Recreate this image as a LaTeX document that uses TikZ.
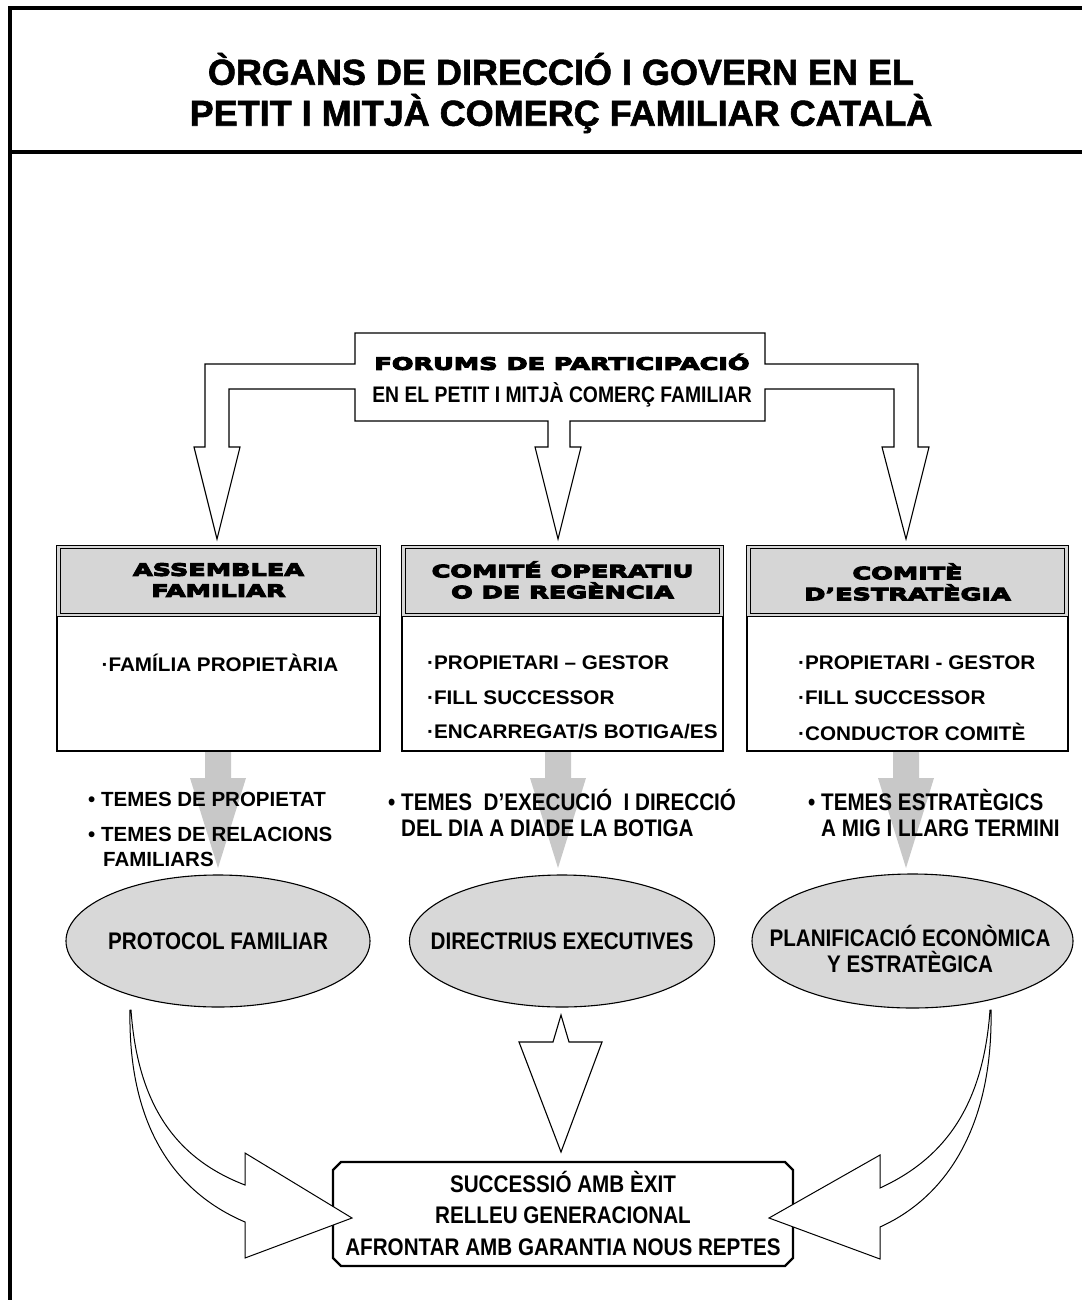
\documentclass[tikz,border=0pt]{standalone}
\usepackage{fontspec}
\usepackage{graphicx}
\setmainfont{Liberation Sans}
\newfontfamily\hdfont[FakeStretch=1.5]{DejaVu Sans}
\newfontfamily\nrfont[FakeStretch=0.86]{Liberation Sans}
\newfontfamily\bdfont[FakeStretch=1.05]{Liberation Sans}
\newcommand\heavytxt[2]{\special{pdf:literal direct 2 Tr #1 w}#2\special{pdf:literal direct 0 Tr 0.4 w}}
\usetikzlibrary{shapes.geometric}
\definecolor{headgrey}{RGB}{214,214,214}
\definecolor{arrgrey}{RGB}{200,200,200}
\definecolor{ellgrey}{RGB}{216,216,216}
\tikzset{
  frameline/.style={line width=4pt},
  outl/.style={draw=black, line width=1.3pt, fill=white},
  titletxt/.style={font=\fontsize{36}{41}\selectfont\bfseries, align=center, inner sep=0pt},
  hdtxt/.style={font=\hdfont\fontsize{17}{21}\selectfont\bfseries, align=center, inner sep=0pt},
  headbox/.style={draw=black, line width=1.1pt, double=headgrey, double distance=2.2pt, fill=headgrey, minimum width=#1, minimum height=68pt, inner sep=0pt},
  bodybox/.style={draw=black, line width=1.3pt, fill=white, minimum width=#1, minimum height=136pt, inner sep=0pt},
  itemtxt/.style={font=\bdfont\fontsize{19.7}{22}\selectfont\bfseries, inner sep=0pt},
  widebul/.style={font=\fontsize{20.5}{26}\selectfont\bfseries, inner sep=0pt, align=left},
  bultxt/.style={font=\nrfont\fontsize{24}{28}\selectfont\bfseries, inner sep=0pt, align=left},
  elltxt/.style={font=\nrfont\fontsize{24}{26}\selectfont\bfseries, align=center, inner sep=0pt},
  ell/.style={ellipse, draw=black, line width=1.1pt, fill=ellgrey, minimum width=#1, inner sep=0pt},
  greyarr/.style={fill=arrgrey},
  finaltxt/.style={font=\nrfont\fontsize{24}{31.5}\selectfont\bfseries, align=center, inner sep=0pt},
}
\begin{document}
\begin{tikzpicture}[x=1pt,y=-1pt]
\useasboundingbox (0,0) rectangle (1082,1300);
% frame
\draw[frameline] (10,1300) -- (10,8) -- (1082,8);
\draw[frameline] (10,152) -- (1082,152);
\node[titletxt] (title) at (561,93) {\heavytxt{0.6}{ÒRGANS DE DIRECCIÓ I GOVERN EN EL}\\\heavytxt{0.6}{PETIT I MITJÀ COMERÇ FAMILIAR CATALÀ}};

% forum shape with three arrows
\draw[outl, line width=1.1pt] (355,333) -- (765,333) -- (765,364) -- (918,364) -- (918,447) -- (929,447)
  -- (906,539) -- (882,447) -- (894,447) -- (894,389) -- (765,389) -- (765,421)
  -- (570,421) -- (570,447) -- (581,447) -- (558,539) -- (535,447) -- (548,447) -- (548,421)
  -- (355,421) -- (355,389) -- (229,389) -- (229,447) -- (240,447) -- (217,539) -- (194,447)
  -- (205,447) -- (205,364) -- (355,364) -- cycle;
\node[hdtxt] (forum) at (562,362) {\heavytxt{1.1}{FORUMS DE PARTICIPACIÓ}};
\node[bultxt, font=\nrfont\fontsize{22.5}{26}\selectfont\bfseries] (forumsub) at (562,395) {EN EL PETIT I MITJÀ COMERÇ FAMILIAR};

% grey arrows from boxes to ellipses
\foreach \cx in {218,558,906}{
  \fill[greyarr] (\cx-13,750) -- (\cx+13,750) -- (\cx+13,778) -- (\cx+28,778) -- (\cx,868) -- (\cx-28,778) -- (\cx-13,778) -- cycle;
}

% boxes
\node[bodybox=323pt] (lbody) at (218.5,683) {};
\node[headbox=320pt] (lhead) at (218.5,581) {};
\node[hdtxt] (lheadt) at (218.5,580) {\heavytxt{1.1}{ASSEMBLEA}\\\heavytxt{1.1}{FAMILIAR}};
\node[itemtxt] (litem) at (220,663) {·FAMÍLIA PROPIETÀRIA};

\node[bodybox=321pt] (mbody) at (562.5,683) {};
\node[headbox=318pt] (mhead) at (562.5,581) {};
\node[hdtxt] (mheadt) at (562.5,580) {\heavytxt{1.1}{COMITÉ OPERATIU}\\\heavytxt{1.1}{O DE REGÈNCIA}};
\node[itemtxt, anchor=west] (mitem1) at (427,663) {·PROPIETARI – GESTOR};
\node[itemtxt, anchor=west] (mitem2) at (427,698) {·FILL SUCCESSOR};
\node[itemtxt, anchor=west] (mitem3) at (427,732) {·ENCARREGAT/S BOTIGA/ES};

\node[bodybox=321pt] (rbody) at (907.5,683) {};
\node[headbox=318pt] (rhead) at (907.5,581) {};
\node[hdtxt] (rheadt) at (907.5,582) {\heavytxt{1.1}{COMITÈ}\\\heavytxt{1.1}{D’ESTRATÈGIA}};
\node[itemtxt, anchor=west] (ritem1) at (798,663) {·PROPIETARI - GESTOR};
\node[itemtxt, anchor=west] (ritem2) at (798,698) {·FILL SUCCESSOR};
\node[itemtxt, anchor=west] (ritem3) at (798,732) {·CONDUCTOR  COMITÈ};

% bullet texts
\node[widebul, anchor=west] (lbul1) at (88,799) {• TEMES DE PROPIETAT};
\node[widebul, anchor=west] (lbul2) at (88,834) {• TEMES DE RELACIONS};
\node[widebul, anchor=west] (lbul3) at (103,859) {FAMILIARS};
\node[bultxt, anchor=west] (mbul1) at (388,800) {• TEMES \ D’EXECUCIÓ \ I DIRECCIÓ};
\node[bultxt, anchor=west] (mbul2) at (401,828) {DEL DIA A DIADE LA BOTIGA};
\node[bultxt, anchor=west] (rbul1) at (808,800) {• TEMES ESTRATÈGICS};
\node[bultxt, anchor=west] (rbul2) at (821,828) {A MIG I LLARG TERMINI};

% ellipses
\node[ell=304pt, minimum height=132pt] (lell) at (218,941) {};
\node[elltxt] (lellt) at (lell.center) {PROTOCOL FAMILIAR};
\node[ell=305pt, minimum height=132pt] (mell) at (562,941) {};
\node[elltxt] (mellt) at (mell.center) {DIRECTRIUS EXECUTIVES};
\node[ell=321pt, minimum height=134pt] (rell) at (912.5,941) {};
\node[elltxt] (rellt) at (910,949) {PLANIFICACIÓ ECONÒMICA\\Y ESTRATÈGICA};

% final box
\draw[line width=2.4pt, fill=white] (341,1162) -- (785,1162) -- (793,1170) -- (793,1258) -- (785,1266) -- (341,1266) -- (333,1258) -- (333,1170) -- cycle;
\node[finaltxt] (final) at (563,1213) {SUCCESSIÓ AMB ÈXIT\\RELLEU GENERACIONAL\\AFRONTAR AMB GARANTIA NOUS REPTES};

% middle arrow
\draw[outl, line width=1.1pt] (561,1015) -- (569,1042) -- (602,1042) -- (561,1152) -- (519,1042) -- (553,1042) -- cycle;

% left curved arrow
\draw[outl, line width=1pt] (131,1010) .. controls (138,1110) and (180,1160) .. (245,1185)
  -- (245,1153) -- (352,1218) -- (245,1258) -- (245,1222)
  .. controls (170,1190) and (128,1120) .. (130,1010) -- cycle;
% right curved arrow
\draw[outl, line width=1pt] (990,1010) .. controls (983,1110) and (941,1160) .. (880,1188)
  -- (880,1155) -- (769,1218) -- (880,1259) -- (880,1227)
  .. controls (951,1195) and (993,1120) .. (991,1010) -- cycle;
\end{tikzpicture}
\end{document}
